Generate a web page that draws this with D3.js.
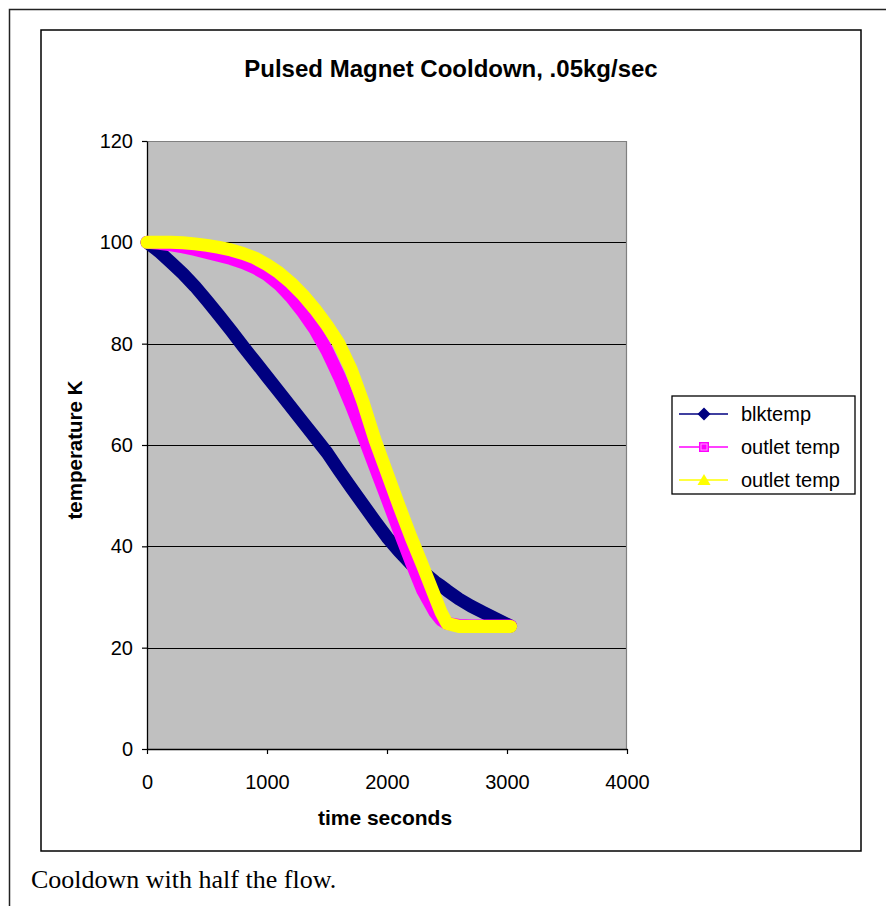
<!DOCTYPE html>
<html>
<head>
<meta charset="utf-8">
<script src="https://cdn.jsdelivr.net/npm/d3@7"></script>
<style>
  html, body { margin: 0; padding: 0; background: #fff; }
  svg { display: block; }
</style>
</head>
<body>
<svg id="chart" width="886" height="906"></svg>
<script>
// ---------- data ----------
const times = [0,100,200,300,400,500,600,700,800,900,1000,1100,1200,1300,1400,1500,1600,1700,1800,1900,2000,2100,2200,2300,2400,2450,2500,2600,2700,2800,2900,3000,3030];
const blktemp = [100,98.2,96,93.8,91.3,88.5,85.6,82.6,79.5,76.5,73.5,70.5,67.5,64.5,61.5,58.5,55,51.6,48.3,45,41.8,39,36.5,35,33,32.2,31.3,29.6,28.2,27,25.8,24.6,24.3];
const outletTemp1 = [100,99.8,99.5,99.1,98.6,98,97.4,96.8,96,95,93.6,91.7,89.2,86.2,82.8,78.6,73.6,68,62,55.7,49.5,43.2,37,31.2,27,25.5,24.8,24.4,24.3,24.3,24.3,24.3,24.3];
const outletTemp2 = [100,100,100,99.9,99.7,99.4,99,98.5,97.8,96.9,95.6,94,92,89.6,86.8,83.6,80,75,68.5,61,54.5,48,41.8,36,30,27,24.8,24.2,24.2,24.2,24.2,24.2,24.2];
const seriesNames = ["blktemp", "outlet temp", "outlet temp"];
const xTicks = [0,1000,2000,3000,4000];
const yTicks = [0,20,40,60,80,100,120];
const titleText = "Pulsed Magnet Cooldown, .05kg/sec";
const xTitle = "time seconds";
const yTitle = "temperature K";
const caption = "Cooldown with half the flow.";

// ---------- setup ----------
const svg = d3.select("#chart");
const font = "Arial, 'Liberation Sans', sans-serif";
const colors = ["#000080", "#FF00FF", "#FFFF00"];

// outer page border
svg.append("rect").attr("x", 9.5).attr("y", 9.5).attr("width", 900).attr("height", 940)
  .attr("fill", "none").attr("stroke", "#222").attr("stroke-width", 1.5);
// chart box
svg.append("rect").attr("x", 41).attr("y", 30).attr("width", 820).attr("height", 821)
  .attr("fill", "#fff").attr("stroke", "#000").attr("stroke-width", 1.5);

const x = d3.scaleLinear().domain([0, 4000]).range([147, 627]);
const y = d3.scaleLinear().domain([0, 120]).range([749, 141]);

// plot area
svg.append("rect").attr("x", x(0)).attr("y", y(120)).attr("width", x(4000) - x(0)).attr("height", y(0) - y(120))
  .attr("fill", "#C0C0C0");
// gridlines
svg.append("g").selectAll("line").data(yTicks.filter(d => d > 0 && d < 120)).join("line")
  .attr("x1", x(0)).attr("x2", x(4000))
  .attr("y1", d => Math.round(y(d)) + 0.5).attr("y2", d => Math.round(y(d)) + 0.5)
  .attr("stroke", "#000").attr("stroke-width", 1.2);
// plot border (top, right)
svg.append("path")
  .attr("d", `M${x(0)},${y(120) + 0.5}H${x(4000) - 0.5}V${y(0)}`)
  .attr("fill", "none").attr("stroke", "#808080").attr("stroke-width", 1.2);

// axes
const yAxis = svg.append("g").attr("transform", `translate(${x(0)},0)`)
  .call(d3.axisLeft(y).tickValues(yTicks).tickFormat(d3.format("d")).tickSize(5).tickPadding(9).tickSizeOuter(0));
const xAxis = svg.append("g").attr("transform", `translate(0,${y(0)})`)
  .call(d3.axisBottom(x).tickValues(xTicks).tickFormat(d3.format("d")).tickSize(5).tickPadding(21).tickSizeOuter(0));
[yAxis, xAxis].forEach(g => {
  g.selectAll("path.domain").attr("stroke", "#000").attr("stroke-width", 1.3);
  g.selectAll(".tick line").attr("stroke", "#000").attr("stroke-width", 1.2);
  g.selectAll("text").attr("font-family", font).attr("font-size", 20).attr("fill", "#000");
});

// series
const seriesData = [blktemp, outletTemp1, outletTemp2];
const line = d3.line().x((d, i) => x(times[i])).y(d => y(d));
seriesData.forEach((vals, k) => {
  svg.append("path").datum(vals)
    .attr("d", line)
    .attr("fill", "none")
    .attr("stroke", colors[k])
    .attr("stroke-width", 13)
    .attr("stroke-linejoin", "round")
    .attr("stroke-linecap", "round");
});

// titles
svg.append("text").attr("x", 451).attr("y", 77).attr("text-anchor", "middle")
  .attr("font-family", font).attr("font-weight", "bold").attr("font-size", 24).text(titleText);
svg.append("text").attr("x", 385).attr("y", 825).attr("text-anchor", "middle")
  .attr("font-family", font).attr("font-weight", "bold").attr("font-size", 21).text(xTitle);
svg.append("text").attr("transform", "translate(82,450) rotate(-90)").attr("text-anchor", "middle")
  .attr("font-family", font).attr("font-weight", "bold").attr("font-size", 20.5).text(yTitle);

// legend
const lg = svg.append("g");
lg.append("rect").attr("x", 672).attr("y", 396).attr("width", 183).attr("height", 98)
  .attr("fill", "#fff").attr("stroke", "#000").attr("stroke-width", 1.3);
const ly = [414, 447, 480];
seriesNames.forEach((name, k) => {
  lg.append("line").attr("x1", 679).attr("x2", 728).attr("y1", ly[k]).attr("y2", ly[k])
    .attr("stroke", colors[k]).attr("stroke-width", 1.5);
  if (k === 0) {
    lg.append("path").attr("d", "M0,-6.5L6.5,0L0,6.5L-6.5,0Z")
      .attr("transform", `translate(704,${ly[k]})`).attr("fill", colors[k]);
  } else if (k === 1) {
    lg.append("rect").attr("x", 699).attr("y", ly[k] - 5).attr("width", 10).attr("height", 10)
      .attr("fill", colors[k]);
    lg.append("rect").attr("x", 701).attr("y", ly[k] - 3).attr("width", 6).attr("height", 6)
      .attr("fill", "none").attr("stroke", "#FF99FF").attr("stroke-width", 1);
  } else {
    lg.append("path").attr("d", "M0,-6L6.5,5L-6.5,5Z")
      .attr("transform", `translate(704,${ly[k]})`).attr("fill", colors[k]);
  }
  lg.append("text").attr("x", 741).attr("y", ly[k] + 7).attr("font-family", font)
    .attr("font-size", 20).text(name);
});

// caption
svg.append("text").attr("x", 31).attr("y", 888)
  .attr("font-family", "'Times New Roman', 'Liberation Serif', serif").attr("font-size", 26).text(caption);
</script>
</body>
</html>
